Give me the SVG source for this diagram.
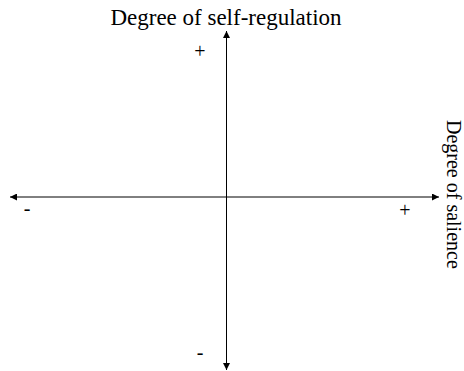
<svg xmlns="http://www.w3.org/2000/svg" width="464" height="371" viewBox="0 0 464 371">
<defs>
<style>
text{font-family:"Liberation Serif","Times New Roman",serif;font-size:20px;fill:#000}
.ax{stroke:#000;stroke-width:1;fill:none}
</style>
<marker id="ah" viewBox="0 0 10 10" refX="10" refY="5" markerWidth="9" markerHeight="7" markerUnits="userSpaceOnUse" orient="auto">
<path d="M0,0 L10,5 L0,10 z" fill="#000"/>
</marker>
</defs>
<rect width="464" height="371" fill="#fff"/>
<g id="connectors">
<line class="ax" x1="226.5" y1="198" x2="226.5" y2="31" marker-end="url(#ah)"/>
<line class="ax" x1="226.5" y1="197" x2="226.5" y2="370" marker-end="url(#ah)"/>
<line class="ax" x1="226" y1="197" x2="10" y2="197" marker-end="url(#ah)"/>
<line class="ax" x1="226" y1="197" x2="439" y2="197" marker-end="url(#ah)"/>
</g>
<g id="label-top"><text x="226" y="25" text-anchor="middle" style="font-size:23px">Degree of self-regulation</text></g>
<g id="label-right"><text transform="translate(447,120) rotate(90)">Degree of salience</text></g>
<g id="sign-top"><text x="200" y="58" text-anchor="middle">+</text></g>
<g id="sign-left"><text x="27" y="215" text-anchor="middle">-</text></g>
<g id="sign-right"><text x="405" y="217" text-anchor="middle">+</text></g>
<g id="sign-bottom"><text x="200" y="359" text-anchor="middle">-</text></g>
</svg>
